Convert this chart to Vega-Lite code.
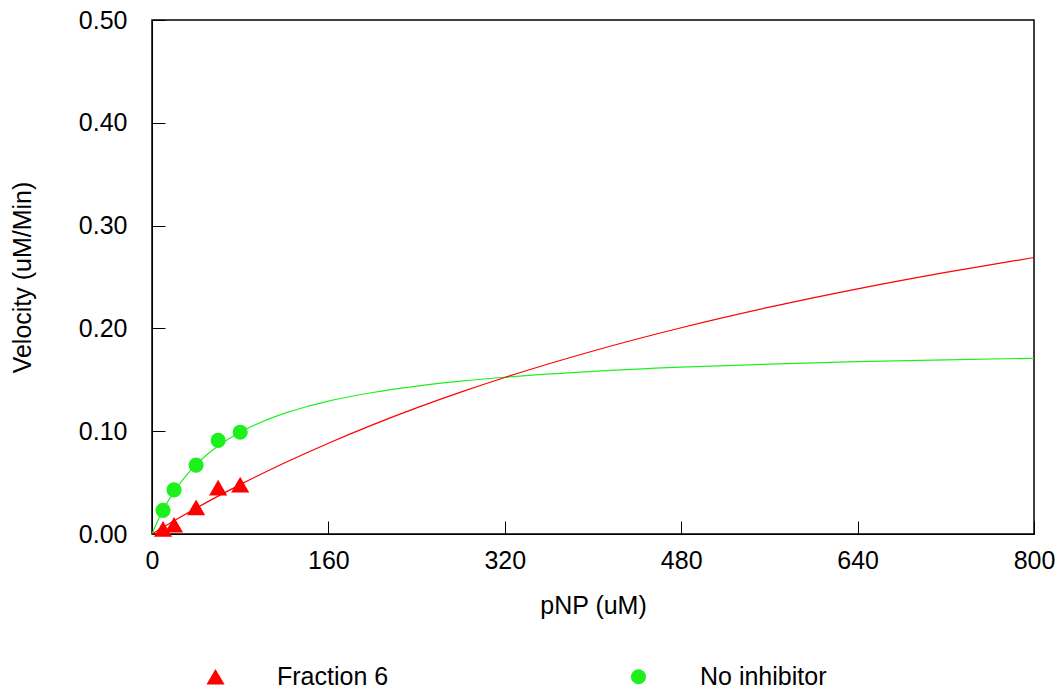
{
  "$schema": "https://vega.github.io/schema/vega-lite/v6.json",
  "width": 882,
  "height": 514,
  "autosize": {"type": "none"},
  "padding": {"left": 152, "top": 20, "right": 26, "bottom": 155},
  "background": "white",
  "config": {
    "font": "Liberation Sans",
    "view": {"stroke": "black", "strokeWidth": 1.5},
    "axis": {"grid": false, "labelFlush": false, "labelFont": "Liberation Sans", "titleFont": "Liberation Sans", "labelFontSize": 25, "titleFontSize": 25, "titleFontWeight": "normal", "labelColor": "black", "titleColor": "black", "domainColor": "black", "tickColor": "black", "tickSize": -13, "tickWidth": 1},
    "legend": {"padding": 0}
  },
  "datasets": {
    "points": [
      {"pnp": 10, "v": 0.023, "series": "No inhibitor"},
      {"pnp": 20, "v": 0.043, "series": "No inhibitor"},
      {"pnp": 40, "v": 0.067, "series": "No inhibitor"},
      {"pnp": 60, "v": 0.091, "series": "No inhibitor"},
      {"pnp": 80, "v": 0.099, "series": "No inhibitor"},
      {"pnp": 10, "v": 0.005, "series": "Fraction 6"},
      {"pnp": 20, "v": 0.009, "series": "Fraction 6"},
      {"pnp": 40, "v": 0.026, "series": "Fraction 6"},
      {"pnp": 60, "v": 0.045, "series": "Fraction 6"},
      {"pnp": 80, "v": 0.048, "series": "Fraction 6"}
    ],
    "curves": [
      {"pnp": 0, "v": 0, "series": "No inhibitor"},
      {"pnp": 5, "v": 0.01235, "series": "No inhibitor"},
      {"pnp": 10, "v": 0.02316, "series": "No inhibitor"},
      {"pnp": 20, "v": 0.0412, "series": "No inhibitor"},
      {"pnp": 30, "v": 0.05563, "series": "No inhibitor"},
      {"pnp": 40, "v": 0.06745, "series": "No inhibitor"},
      {"pnp": 50, "v": 0.07731, "series": "No inhibitor"},
      {"pnp": 60, "v": 0.08565, "series": "No inhibitor"},
      {"pnp": 80, "v": 0.099, "series": "No inhibitor"},
      {"pnp": 100, "v": 0.10922, "series": "No inhibitor"},
      {"pnp": 120, "v": 0.11729, "series": "No inhibitor"},
      {"pnp": 140, "v": 0.12382, "series": "No inhibitor"},
      {"pnp": 160, "v": 0.12922, "series": "No inhibitor"},
      {"pnp": 200, "v": 0.13763, "series": "No inhibitor"},
      {"pnp": 240, "v": 0.14386, "series": "No inhibitor"},
      {"pnp": 280, "v": 0.14867, "series": "No inhibitor"},
      {"pnp": 320, "v": 0.1525, "series": "No inhibitor"},
      {"pnp": 400, "v": 0.1582, "series": "No inhibitor"},
      {"pnp": 480, "v": 0.16224, "series": "No inhibitor"},
      {"pnp": 560, "v": 0.16525, "series": "No inhibitor"},
      {"pnp": 640, "v": 0.16759, "series": "No inhibitor"},
      {"pnp": 720, "v": 0.16946, "series": "No inhibitor"},
      {"pnp": 800, "v": 0.17097, "series": "No inhibitor"},
      {"pnp": 0, "v": 0, "series": "Fraction 6"},
      {"pnp": 10, "v": 0.0065, "series": "Fraction 6"},
      {"pnp": 20, "v": 0.01285, "series": "Fraction 6"},
      {"pnp": 40, "v": 0.02511, "series": "Fraction 6"},
      {"pnp": 60, "v": 0.03683, "series": "Fraction 6"},
      {"pnp": 80, "v": 0.04803, "series": "Fraction 6"},
      {"pnp": 120, "v": 0.06904, "series": "Fraction 6"},
      {"pnp": 160, "v": 0.08835, "series": "Fraction 6"},
      {"pnp": 200, "v": 0.10618, "series": "Fraction 6"},
      {"pnp": 240, "v": 0.12268, "series": "Fraction 6"},
      {"pnp": 280, "v": 0.13799, "series": "Fraction 6"},
      {"pnp": 320, "v": 0.15225, "series": "Fraction 6"},
      {"pnp": 400, "v": 0.17799, "series": "Fraction 6"},
      {"pnp": 480, "v": 0.20061, "series": "Fraction 6"},
      {"pnp": 560, "v": 0.22063, "series": "Fraction 6"},
      {"pnp": 640, "v": 0.23848, "series": "Fraction 6"},
      {"pnp": 720, "v": 0.2545, "series": "Fraction 6"},
      {"pnp": 800, "v": 0.26895, "series": "Fraction 6"}
    ]
  },
  "encoding": {
    "x": {"field": "pnp", "type": "quantitative", "scale": {"domain": [0, 800], "nice": false, "zero": false},
      "axis": {"title": "pNP (uM)", "values": [0, 160, 320, 480, 640, 800], "labelPadding": 27, "titlePadding": 20}},
    "y": {"field": "v", "type": "quantitative", "scale": {"domain": [0, 0.5], "nice": false},
      "axis": {"title": "Velocity (uM/Min)", "values": [0, 0.1, 0.2, 0.3, 0.4, 0.5], "format": ".2f", "labelPadding": 38, "titlePadding": 43}}
  },
  "layer": [
    {
      "data": {"name": "curves"},
      "mark": {"type": "line", "strokeWidth": 1.2, "interpolate": "monotone"},
      "encoding": {
        "color": {"field": "series", "type": "nominal", "scale": {"domain": ["Fraction 6", "No inhibitor"], "range": ["#ff0000", "#1ef01e"]}},
        "detail": {"field": "series"}
      }
    },
    {
      "data": {"name": "points"},
      "mark": {"type": "point", "filled": true, "opacity": 1},
      "encoding": {
        "color": {"field": "series", "type": "nominal", "scale": {"domain": ["Fraction 6", "No inhibitor"], "range": ["#ff0000", "#1ef01e"]},
          "legend": {"title": null, "orient": "none", "legendX": 51, "legendY": 644, "direction": "horizontal", "columns": 2, "labelFontSize": 25, "labelFont": "Liberation Sans", "labelColor": "black", "labelOffset": 49, "symbolSize": 170, "columnPadding": 237, "symbolStrokeWidth": 0, "symbolOpacity": 1}},
        "shape": {"field": "series", "type": "nominal", "scale": {"domain": ["Fraction 6", "No inhibitor"], "range": ["triangle-up", "circle"]},
          "legend": {"title": null, "orient": "none", "legendX": 51, "legendY": 644, "direction": "horizontal", "columns": 2, "labelFontSize": 25, "labelFont": "Liberation Sans", "labelColor": "black", "labelOffset": 49, "symbolSize": 170, "columnPadding": 237, "symbolStrokeWidth": 0, "symbolOpacity": 1}},
        "size": {"field": "series", "type": "nominal", "scale": {"domain": ["Fraction 6", "No inhibitor"], "range": [330, 230]}, "legend": null}
      }
    }
  ]
}
